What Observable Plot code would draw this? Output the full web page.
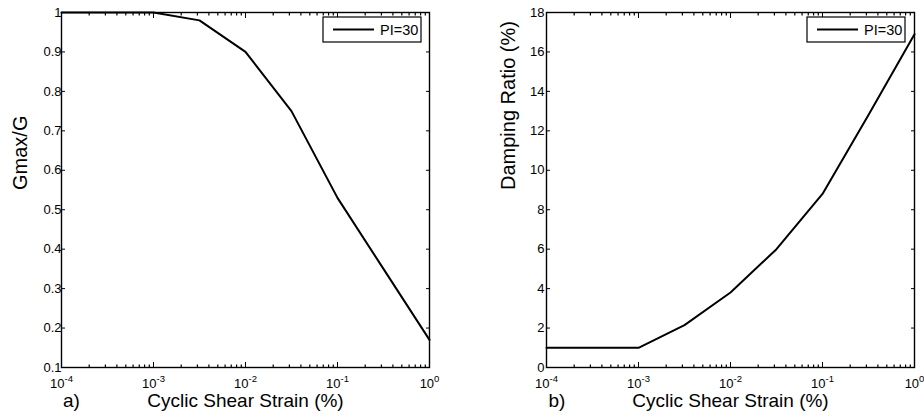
<!DOCTYPE html>
<html><head><meta charset="utf-8">
<script src="https://cdn.jsdelivr.net/npm/d3@7"></script>
<script src="https://cdn.jsdelivr.net/npm/@observablehq/plot@0.6"></script>
<style>
body{margin:0;background:#fff;}
#wrap{display:flex;width:924px;height:419px;}
#wrap svg{font-family:"Liberation Sans",Arial,sans-serif;overflow:visible;}
</style></head><body><div id="wrap"></div>
<script>
// ---- data ----
const strain = [1e-4, 1e-3, 3.16e-3, 1e-2, 3.16e-2, 1e-1, 3.16e-1, 1];
const modulusRatio = [1, 1, 0.98, 0.90, 0.75, 0.53, 0.35, 0.17];
const dampingRatio = [1, 1, 2.15, 3.8, 6.0, 8.8, 12.8, 16.9];
const xMajorTicks = [1e-4, 1e-3, 1e-2, 1e-1, 1];
const xTickExponents = ["-4", "-3", "-2", "-1", "0"];
const leftYTicks = [0.1, 0.2, 0.3, 0.4, 0.5, 0.6, 0.7, 0.8, 0.9, 1];
const rightYTicks = [0, 2, 4, 6, 8, 10, 12, 14, 16, 18];
const seriesName = "PI=30";
const xLabel = "Cyclic Shear Strain (%)";
const leftYLabel = "Gmax/G";
const rightYLabel = "Damping Ratio (%)";
const panelTags = ["a)", "b)"];

// minor log ticks
const xMinorTicks = [];
for (const d of xMajorTicks.slice(0, -1)) for (let k = 2; k <= 9; k++) xMinorTicks.push(d * k);

const noLabel = () => "";

function makePanel({values, yDomain, yTicks, yLabel, tag, marginLeft, marginRight, yLabelDx, tagDx, yTickPad, legendRight}) {
  const W = 462, H = 419, mt = 12, mb = 52;
  const rows = strain.map((s, i) => ({x: s, y: values[i]}));
  const expOf = new Map(xMajorTicks.map((t, i) => [t, xTickExponents[i]]));
  const svg = Plot.plot({
    width: W, height: H,
    marginLeft, marginRight, marginTop: mt, marginBottom: mb,
    style: {fontFamily: "Liberation Sans, Arial, sans-serif", background: "white", color: "black"},
    x: {type: "log", domain: [1e-4, 1]},
    y: {domain: yDomain},
    marks: [
      // minor ticks top & bottom
      Plot.axisX(xMinorTicks, {anchor: "bottom", tickSize: -2.5, tickFormat: noLabel, label: null, strokeWidth: 1.2}),
      Plot.axisX(xMinorTicks, {anchor: "top", tickSize: -2.5, tickFormat: noLabel, label: null, strokeWidth: 1.2}),
      // major ticks top & bottom
      Plot.axisX(xMajorTicks, {anchor: "bottom", tickSize: -5, tickFormat: noLabel, label: null}),
      Plot.axisX(xMajorTicks, {anchor: "top", tickSize: -5, tickFormat: noLabel, label: null}),
      // x tick labels
      Plot.axisX(xMajorTicks, {anchor: "bottom", tickSize: 0, tickPadding: 11, fontSize: 13,
        tickFormat: d => "10^" + expOf.get(d), label: null}),
      // y ticks both sides
      Plot.axisY(yTicks, {anchor: "left", tickSize: -4, tickPadding: 4 + yTickPad, fontSize: 13,
        tickFormat: d => String(d), label: null}),
      Plot.axisY(yTicks, {anchor: "right", tickSize: -4, tickFormat: noLabel, label: null}),
      Plot.frame({stroke: "black", strokeWidth: 1.4}),
      Plot.line(rows, {x: "x", y: "y", stroke: "black", strokeWidth: 2}),
      Plot.text([xLabel], {frameAnchor: "bottom", dy: 39, fontSize: 19, fill: "black"}),
      Plot.text([yLabel], {frameAnchor: "left", rotate: -90, dx: yLabelDx, fontSize: 20, fill: "black"}),
      Plot.text([tag], {frameAnchor: "bottom-left", dx: tagDx, dy: 39, fontSize: 19, fill: "black"})
    ]
  });
  const root = d3.select(svg);
  // drop empty tick-label texts
  root.selectAll("text").filter(function () { return this.textContent === ""; }).remove();
  // tick label font sizes, superscripts
  root.selectAll('g[aria-label="y-axis tick label"] text').attr("font-size", 13).style("font-size", "13px");
  root.selectAll('g[aria-label="x-axis tick label"] text').each(function () {
    const sel = d3.select(this);
    sel.attr("font-size", 13).style("font-size", "13px");
    const t = this.textContent;
    if (/^10\^/.test(t)) {
      const exp = t.split("^")[1];
      sel.text(null);
      sel.append("tspan").text("10");
      sel.append("tspan").attr("dy", "-0.6em").attr("font-size", 9.5).style("font-size", "9.5px").text(exp);
    }
  });
  // legend inside the frame (top-right)
  const frameRight = W - marginRight;
  const bw = 98, bh = 25;
  const bx = frameRight - legendRight - bw, by = mt + 5;
  const g = root.append("g").attr("aria-label", "legend");
  g.append("rect").attr("x", bx).attr("y", by).attr("width", bw).attr("height", bh)
    .attr("fill", "white").attr("stroke", "black").attr("stroke-width", 1.2);
  g.append("line").attr("x1", bx + 10).attr("x2", bx + 51).attr("y1", by + bh / 2).attr("y2", by + bh / 2)
    .attr("stroke", "black").attr("stroke-width", 2);
  g.append("text").attr("x", bx + 57).attr("y", by + bh / 2).attr("dy", "0.35em")
    .attr("text-anchor", "start").attr("font-size", 14.5).attr("fill", "black").text(seriesName);
  return svg;
}

const wrap = document.getElementById("wrap");
wrap.append(makePanel({values: modulusRatio, yDomain: [0.1, 1], yTicks: leftYTicks, yLabel: leftYLabel,
  tag: panelTags[0], marginLeft: 61, marginRight: 33, yLabelDx: -41, tagDx: 1.5, yTickPad: 0, legendRight: 8}));
wrap.append(makePanel({values: dampingRatio, yDomain: [0, 18], yTicks: rightYTicks, yLabel: rightYLabel,
  tag: panelTags[1], marginLeft: 84, marginRight: 10, yLabelDx: -38, tagDx: 2, yTickPad: 2, legendRight: 9}));
</script></body></html>
